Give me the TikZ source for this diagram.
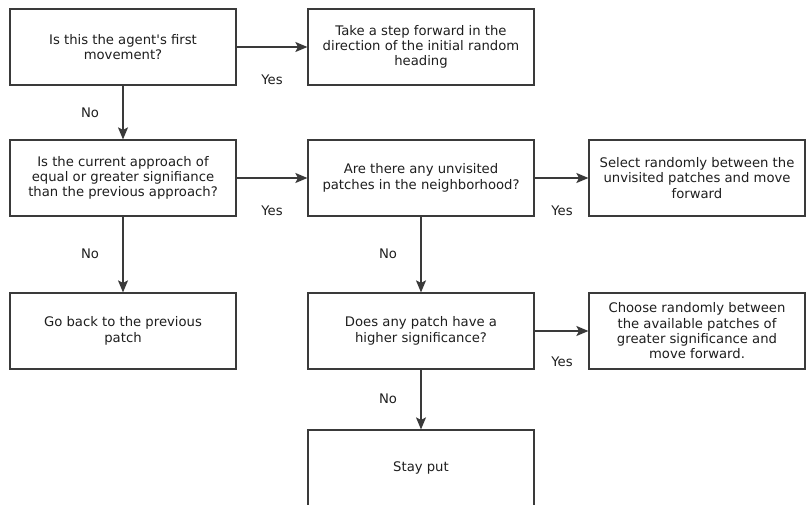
\documentclass[tikz,border=0pt]{standalone}
\usepackage{fontspec}
\setmainfont{DejaVu Sans}[Ligatures=TeXOff]
\usetikzlibrary{arrows.meta}
\definecolor{edge}{HTML}{3A3A3A}
\definecolor{ink}{HTML}{1E1E1E}
\tikzset{
  stepbox/.style={draw=edge, line width=1.2pt, fill=white, minimum width=226pt,
    minimum height=76pt, inner sep=0pt, align=center, text=ink,
    font=\fontsize{13.2}{15.3}\selectfont},
  flow/.style={draw=edge, line width=1.1pt, -{Stealth[length=12pt,width=10pt,inset=2.5pt]}},
  tag/.style={text=ink, font=\fontsize{13.2}{15}\selectfont, inner sep=0pt}
}
\begin{document}
\begin{tikzpicture}[x=1pt,y=-1pt]
\useasboundingbox (0,0) rectangle (806,505);
\clip (0,0) rectangle (806,505);
\fill[white] (0,0) rectangle (806,505);

\node[stepbox] (first) at (123,47) {Is this the agent's first\\movement?};
\node[stepbox] (fwd) at (421,47) {Take a step forward in the\\direction of the initial random\\heading};
\node[stepbox] (signif) at (123,178) {Is the current approach of\\equal or greater signifiance\\than the previous approach?};
\node[stepbox] (back) at (123,331) {Go back to the previous\\patch};
\node[stepbox] (unvis) at (421,178) {Are there any unvisited\\patches in the neighborhood?};
\node[stepbox, minimum width=216pt] (select) at (697,178) {Select randomly between the\\unvisited patches and move\\forward};
\node[stepbox] (higher) at (421,331) {Does any patch have a\\higher significance?};
\node[stepbox, minimum width=216pt] (choose) at (697,331) {Choose randomly between\\the available patches of\\greater significance and\\move forward.};
\node[stepbox] (stay) at (421,468) {Stay put};

\draw[flow] (first) -- (fwd);
\draw[flow] (first) -- (signif);
\draw[flow] (signif) -- (unvis);
\draw[flow] (signif) -- (back);
\draw[flow] (unvis) -- (select);
\draw[flow] (unvis) -- (higher);
\draw[flow] (higher) -- (choose);
\draw[flow] (higher) -- (stay);

\node[tag] (y1) at (272,80) {Yes};
\node[tag] (n1) at (90,113) {No};
\node[tag] (y2) at (272,211) {Yes};
\node[tag] (n2) at (90,254) {No};
\node[tag] (y3) at (562,211) {Yes};
\node[tag] (n3) at (388,254) {No};
\node[tag] (y4) at (562,362) {Yes};
\node[tag] (n4) at (388,399) {No};
\end{tikzpicture}
\end{document}
